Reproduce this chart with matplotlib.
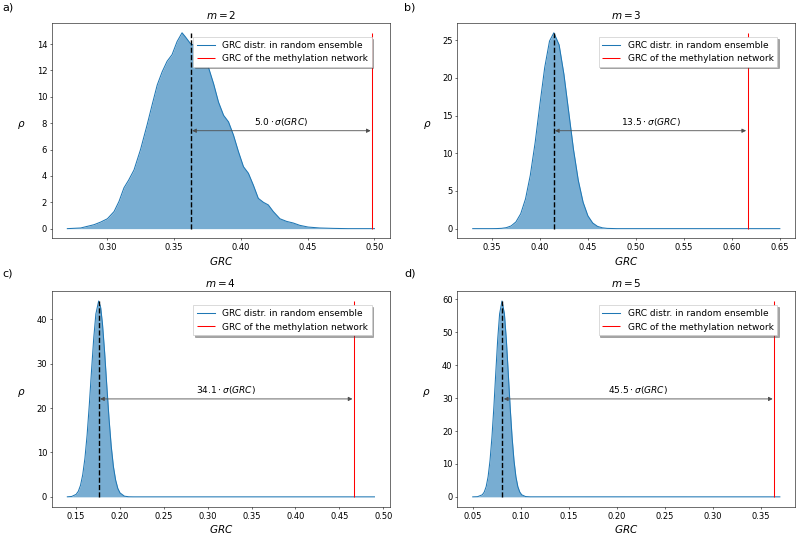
import matplotlib.pyplot as plt

# m values for the four panels
m_vals = [2, 3, 4, 5]
panel_tags = ["a)", "b)", "c)", "d)"]

# density of GRC in the random ensemble
grc_a = [0.270, 0.280, 0.290, 0.295, 0.300, 0.305, 0.3087, 0.3124, 0.316, 0.3199,
         0.3248, 0.3298, 0.3335, 0.3373, 0.341, 0.3447, 0.3484, 0.3522, 0.3559, 0.3584,
         0.3621, 0.3671, 0.372, 0.3758, 0.3795, 0.3832, 0.387, 0.3907, 0.3944, 0.3981,
         0.4019, 0.4056, 0.4093, 0.413, 0.4168, 0.4205, 0.4242, 0.4292, 0.4342, 0.4391,
         0.4441, 0.4503, 0.459, 0.469, 0.480, 0.500]
rho_a = [0.0, 0.05, 0.3, 0.5, 0.75, 1.3, 2.07, 3.1, 3.7, 4.45,
         6.0, 7.9, 9.4, 10.9, 11.9, 12.7, 13.2, 14.2, 14.86, 14.55,
         14.05, 13.8, 13.2, 12.2, 11.0, 9.6, 8.6, 8.1, 7.1, 5.85,
         4.7, 4.2, 3.3, 2.3, 2.0, 1.8, 1.3, 0.75, 0.55, 0.43,
         0.25, 0.12, 0.05, 0.02, 0.0, 0.0]

grc_b = [0.330, 0.350, 0.355, 0.360, 0.365, 0.370, 0.375, 0.380, 0.385, 0.390,
         0.395, 0.400, 0.405, 0.410, 0.4145, 0.420, 0.425, 0.430, 0.435, 0.440,
         0.445, 0.450, 0.455, 0.460, 0.465, 0.470, 0.480, 0.650]
rho_b = [0.0, 0.0, 0.01, 0.04, 0.13, 0.36, 0.89, 1.98, 3.95, 7.1,
         11.4, 16.5, 21.4, 24.9, 26.0, 24.4, 20.5, 15.5, 10.5, 6.4,
         3.5, 1.7, 0.75, 0.3, 0.11, 0.035, 0.0, 0.0]

grc_c = [0.140, 0.145, 0.150, 0.1525, 0.155, 0.1575, 0.160, 0.1625, 0.165, 0.1675,
         0.170, 0.1725, 0.1757, 0.178, 0.180, 0.1825, 0.185, 0.1875, 0.190, 0.1925,
         0.195, 0.1975, 0.200, 0.205, 0.210, 0.215, 0.490]
rho_c = [0.01, 0.09, 0.56, 1.26, 2.6, 4.96, 8.66, 13.9, 20.7, 28.3,
         35.6, 41.2, 44.1, 42.6, 39.0, 32.5, 24.9, 17.6, 11.4, 6.8,
         3.8, 1.9, 0.89, 0.15, 0.02, 0.0, 0.0]

grc_d = [0.050, 0.055, 0.060, 0.062, 0.064, 0.066, 0.068, 0.070, 0.072, 0.074,
         0.076, 0.078, 0.0805, 0.083, 0.085, 0.087, 0.089, 0.091, 0.093, 0.095,
         0.097, 0.099, 0.101, 0.105, 0.110, 0.370]
rho_d = [0.0, 0.05, 0.63, 1.47, 3.1, 6.1, 11.0, 18.1, 27.2, 37.7,
         47.8, 55.6, 59.5, 55.6, 47.8, 37.7, 27.2, 18.1, 11.0, 6.1,
         3.1, 1.47, 0.63, 0.09, 0.01, 0.0]

# ensemble mean, GRC of the real network, distance in units of sigma
grc_mean = [0.3624, 0.4142, 0.1757, 0.081]
grc_network = [0.4982, 0.6163, 0.4665, 0.364]
n_sigma = [5.0, 13.5, 34.1, 45.5]

grc_list = [grc_a, grc_b, grc_c, grc_d]
rho_list = [rho_a, rho_b, rho_c, rho_d]

fig, axes = plt.subplots(2, 2, figsize=(16, 10.7), dpi=50)
plt.subplots_adjust(left=0.065, right=0.994, top=0.957, bottom=0.053,
                    wspace=0.2, hspace=0.245)

for i, ax in enumerate(axes.flat):
    x = grc_list[i]
    y = rho_list[i]
    top = max(y)
    ax.plot(x, y, color="C0", lw=1.5, label="GRC distr. in random ensemble")
    ax.fill_between(x, y, color="C0", alpha=0.6, lw=0)
    ax.vlines(grc_mean[i], 0, top, colors="k", linestyles="--", lw=2)
    ax.vlines(grc_network[i], 0, top, colors="r", lw=1.5,
              label="GRC of the methylation network")
    ax.annotate("", xy=(grc_network[i], top / 2), xytext=(grc_mean[i], top / 2),
                arrowprops=dict(arrowstyle="<|-|>", color="0.3", lw=1.2,
                                mutation_scale=12))
    ax.text((grc_mean[i] + grc_network[i]) / 2, top * 0.545,
            r"$%.1f \cdot \sigma(GRC)$" % n_sigma[i],
            ha="center", va="center", fontsize=13)
    ax.set_title("$m = %d$" % m_vals[i], fontsize=15)
    ax.set_xlabel("$GRC$", fontsize=15)
    ax.set_ylabel(r"$\rho$", fontsize=15, rotation=0, labelpad=22)
    ax.tick_params(labelsize=12)
    ax.legend(loc="upper right", bbox_to_anchor=(0.96, 0.955), fontsize=13,
              fancybox=False, shadow=True)

fig.text(0.003, 0.995, panel_tags[0], fontsize=16, va="top")
fig.text(0.505, 0.995, panel_tags[1], fontsize=16, va="top")
fig.text(0.003, 0.498, panel_tags[2], fontsize=16, va="top")
fig.text(0.505, 0.498, panel_tags[3], fontsize=16, va="top")

plt.savefig("out.png", dpi=50)
